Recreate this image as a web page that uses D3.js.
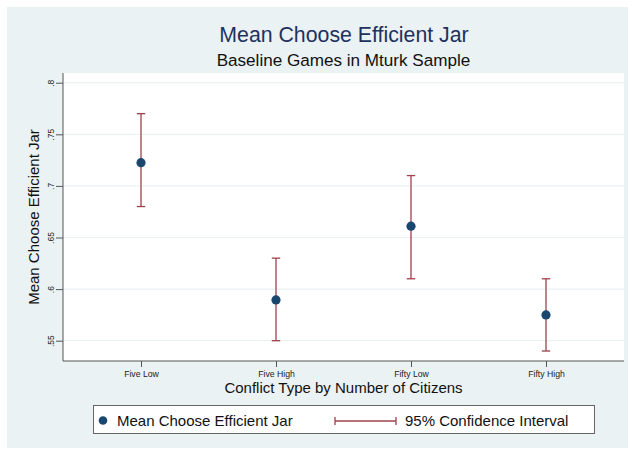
<!DOCTYPE html>
<html><head><meta charset="utf-8">
<script src="https://cdn.jsdelivr.net/npm/d3@7"></script>
<style>body{margin:0;background:#fff;} svg{display:block;font-family:"Liberation Sans",Arial,sans-serif;}</style>
</head><body>
<svg id="c" width="628" height="451"></svg>
<script>
const categories = ["Five Low", "Five High", "Fifty Low", "Fifty High"];
const means = [0.7225, 0.5895, 0.661, 0.575];
const ciLow = [0.68, 0.55, 0.61, 0.54];
const ciHigh = [0.77, 0.63, 0.71, 0.61];
const yTicks = [0.55, 0.6, 0.65, 0.7, 0.75, 0.8];
const yTickLabels = [".55", ".6", ".65", ".7", ".75", ".8"];

const svg = d3.select("#c");
const W = 628, H = 451;
const plot = {l: 63, r: 624, t: 73, b: 361};
const navy = "#1a476f", maroon = "#a0404c";

svg.append("rect").attr("x", 7).attr("y", 7).attr("width", W - 7).attr("height", 441).attr("fill", "#eaf2f3");
svg.append("rect").attr("x", plot.l).attr("y", plot.t).attr("width", plot.r - plot.l).attr("height", plot.b - plot.t).attr("fill", "#fff");

const y = d3.scaleLinear().domain([0.55, 0.8]).range([340.7, 82.7]);
const x = d3.scalePoint().domain(categories).range([141, 546]);

// gridlines
svg.append("g").selectAll("line").data(yTicks).join("line")
  .attr("x1", plot.l).attr("x2", plot.r).attr("y1", d => y(d)).attr("y2", d => y(d))
  .attr("stroke", "#eaf2f3").attr("stroke-width", 1.2);

// y axis
const yAxis = svg.append("g").attr("transform", `translate(${plot.l},0)`)
  .call(d3.axisLeft(y).tickValues(yTicks).tickFormat((d, i) => yTickLabels[i]).tickSize(7).tickSizeOuter(0));
yAxis.select(".domain").attr("d", `M0,${plot.t}V${plot.b}`).attr("stroke", "#555");
yAxis.selectAll(".tick line").attr("stroke", "#555");
yAxis.selectAll(".tick text").attr("font-size", 8.5).attr("fill", "#222")
  .attr("text-anchor", "middle").attr("dy", "0.32em")
  .attr("transform", "translate(-12,0) rotate(-90)").attr("x", 0).attr("y", 0);

// x axis
const xAxis = svg.append("g").attr("transform", `translate(0,${plot.b})`)
  .call(d3.axisBottom(x).tickSize(6).tickSizeOuter(0));
xAxis.select(".domain").attr("d", `M${plot.l},0H${plot.r}`).attr("stroke", "#555");
xAxis.selectAll(".tick line").attr("stroke", "#555");
xAxis.selectAll(".tick text").attr("font-size", 8.7).attr("fill", "#222").attr("y", 10);

// CI bars
const g = svg.append("g");
categories.forEach((c, i) => {
  const cx = x(c);
  g.append("line").attr("x1", cx).attr("x2", cx).attr("y1", y(ciLow[i])).attr("y2", y(ciHigh[i])).attr("stroke", maroon).attr("stroke-width", 1.3);
  [ciLow[i], ciHigh[i]].forEach(v => g.append("line").attr("x1", cx - 4.2).attr("x2", cx + 4.2).attr("y1", y(v)).attr("y2", y(v)).attr("stroke", maroon).attr("stroke-width", 1.3));
});
g.selectAll("circle").data(categories).join("circle")
  .attr("cx", d => x(d)).attr("cy", (d, i) => y(means[i])).attr("r", 4.6).attr("fill", navy);

// titles
svg.append("text").attr("x", 344).attr("y", 42).attr("text-anchor", "middle").attr("font-size", 21.3).attr("fill", "#1e3160").text("Mean Choose Efficient Jar");
svg.append("text").attr("x", 343.5).attr("y", 65.5).attr("text-anchor", "middle").attr("font-size", 17.1).attr("fill", "#111").text("Baseline Games in Mturk Sample");
svg.append("text").attr("x", 343.5).attr("y", 392.5).attr("text-anchor", "middle").attr("font-size", 15).attr("fill", "#111").text("Conflict Type by Number of Citizens");
svg.append("text").attr("transform", `translate(38.5,${(plot.t + plot.b) / 2}) rotate(-90)`).attr("text-anchor", "middle").attr("font-size", 15).attr("fill", "#111").text("Mean Choose Efficient Jar");

// legend
const lg = svg.append("g");
lg.append("rect").attr("x", 93.5).attr("y", 405.5).attr("width", 501).attr("height", 28).attr("fill", "#fff").attr("stroke", "#666");
lg.append("circle").attr("cx", 103).attr("cy", 420.5).attr("r", 4.3).attr("fill", navy);
lg.append("text").attr("x", 117).attr("y", 426).attr("font-size", 15).attr("fill", "#111").text("Mean Choose Efficient Jar");
lg.append("line").attr("x1", 335).attr("x2", 396).attr("y1", 421).attr("y2", 421).attr("stroke", maroon).attr("stroke-width", 1.3);
[335, 396].forEach(v => lg.append("line").attr("x1", v).attr("x2", v).attr("y1", 417).attr("y2", 425).attr("stroke", maroon).attr("stroke-width", 1.3));
lg.append("text").attr("x", 405).attr("y", 426).attr("font-size", 15).attr("fill", "#111").text("95% Confidence Interval");
</script>
</body></html>
